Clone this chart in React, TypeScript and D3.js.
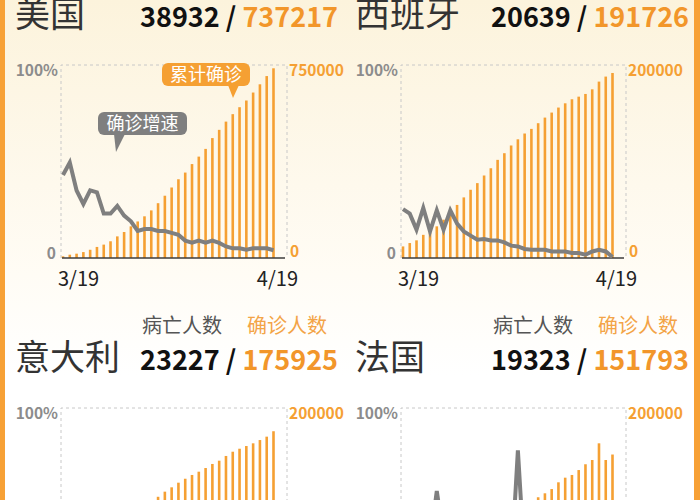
import React, {useEffect, useRef} from 'react';
import * as d3 from 'd3';

// x categories, 3/19 .. 4/19
const dates: string[] = [
  '3/19', '3/20', '3/21', '3/22', '3/23', '3/24', '3/25', '3/26', '3/27', '3/28', '3/29', '3/30', '3/31',
  '4/1', '4/2', '4/3', '4/4', '4/5', '4/6', '4/7', '4/8', '4/9', '4/10', '4/11', '4/12', '4/13', '4/14',
  '4/15', '4/16', '4/17', '4/18', '4/19'
];

const countries: string[] = ['美国', '西班牙', '意大利', '法国'];
const deaths: number[] = [38932, 20639, 23227, 19323];
const confirmedTotal: number[] = [737217, 191726, 175925, 151793];
const rightMax: number[] = [750000, 200000, 200000, 200000];
const leftTicks: string[] = ['0', '100%'];

// cumulative confirmed (bars)
const usConfirmed: number[] = [
  6500, 12900, 16800, 23000, 32000, 43000, 52000, 65000, 84000, 101000,
  123000, 142000, 162000, 185000, 213000, 242000, 274000, 306000, 332000, 365000,
  394000, 424000, 466000, 498000, 530000, 559000, 586000, 612000, 643000, 675000,
  707000, 737217
];
const spainConfirmed: number[] = [
  12000, 15500, 18300, 24000, 26500, 32800, 39700, 46600, 55000, 62800,
  70700, 77600, 85500, 93000, 101700, 108600, 116600, 123000, 129000, 133800,
  139700, 145500, 150700, 155900, 160300, 164500, 167200, 170000, 174800, 182800,
  188000, 191726
];
const italyConfirmed: number[] = [
  35700, 41000, 47000, 53600, 59100, 63900, 69200, 74400, 80600, 86500,
  92500, 97700, 101000, 104500, 108000, 113300, 117800, 122600, 126700, 130600,
  134000, 137800, 142000, 145400, 150300, 154700, 157800, 160600, 163400, 166800,
  170300, 175925
];
const franceConfirmed: number[] = [
  9100, 10900, 12600, 14300, 16000, 19800, 22300, 25200, 29200, 32900,
  37600, 40200, 44500, 52100, 56900, 59100, 64300, 89900, 92800, 98000,
  107500, 111600, 116000, 123000, 127800, 130600, 135700, 141700, 146100, 163400,
  146100, 151793
];

// growth rate of confirmed, % (line)
const usGrowth: number[] = [
  43, 49.5, 35, 28, 35, 34, 23, 23, 27, 22,
  19, 14, 15, 15, 14, 14, 13, 12, 9, 8,
  9, 8, 9, 7.8, 6, 5, 5, 4.3, 5, 5,
  5, 4
];
const spainGrowth: number[] = [
  25.3, 23, 14.7, 25.9, 13.8, 24.7, 14.7, 24.7, 17.8, 13.8,
  11.6, 9.5, 9.8, 9.1, 9.1, 8.1, 6.4, 6, 4.7, 4.3,
  4.3, 4.3, 3.4, 3.4, 3.4, 2.6, 2.6, 1.7, 3.4, 4.3,
  3.4, 0.5
];
const italyGrowth: number[] = [
  14, 14.6, 13.9, 10.3, 8.1, 8.2, 7.5, 8.3, 7.3, 6.9,
  5.6, 4.1, 4.0, 4.5, 4.2, 4.0, 4.0, 3.5, 2.7, 2.3,
  2.8, 3.0, 2.8, 3.2, 2.7, 2.0, 1.9, 1.6, 2.3, 2.1,
  2.0, 1.8
];
const franceGrowth: number[] = [
  19, 16, 14, 28, 30, 57, 33, 15, 13, 18,
  12, 9, 11, 13, 7, 5, 17, 78, 20, 8,
  10, 4, 6, 4, 3, 4, 3, 5, 4, 12,
  1, 2
];

const barSeries: number[][] = [usConfirmed, spainConfirmed, italyConfirmed, franceConfirmed];
const lineSeries: number[][] = [usGrowth, spainGrowth, italyGrowth, franceGrowth];

const ORANGE = '#f5a033';
const ORANGE_TEXT = '#f2962a';
const GRAY = '#7f7f7f';
const FONT = '"Noto Sans CJK SC", "Noto Sans", sans-serif';

const App = () => {
  const refObject: any = useRef();

  useEffect(() => {
    const currentObject: any = refObject.current;
    const width = 700;
    const height = 500;

    const svg: any = d3.select(currentObject)
      .call((g: any) => g.select('svg').remove())
      .append('svg')
      .attr('width', width)
      .attr('height', height)
      .attr('viewBox', `0,0,${width},${height}`)
      .style('font-family', FONT);

    const grad = svg.append('defs').append('linearGradient')
      .attr('id', 'bg').attr('x1', 0).attr('y1', 0).attr('x2', 0).attr('y2', 1);
    grad.append('stop').attr('offset', '0%').attr('stop-color', '#fcf3dc');
    grad.append('stop').attr('offset', '55%').attr('stop-color', '#fffcf5');
    grad.append('stop').attr('offset', '75%').attr('stop-color', '#ffffff');

    svg.append('rect').attr('width', width).attr('height', height).attr('fill', 'url(#bg)');
    svg.append('rect').attr('x', 0).attr('y', 0).attr('width', 5).attr('height', height).attr('fill', '#f7a136');
    svg.append('rect').attr('x', 694).attr('y', 0).attr('width', 6).attr('height', height).attr('fill', '#f7a136');

    countries.forEach((name, i) => {
      const col = i % 2;
      const row = Math.floor(i / 2);
      const ox = col * 340;
      const oy = row * 343;
      const left = ox + 61;
      const right = ox + 287 - col;
      const top = oy + 65;
      const bottom = oy + 258;
      const g = svg.append('g');

      const x = d3.scalePoint()
        .domain(dates)
        .range([left + 2, right - 13.5]);

      const yBar = d3.scaleLinear()
        .domain([0, rightMax[i]])
        .range([bottom, top]);

      const yLine = d3.scaleLinear()
        .domain([0, 100])
        .range([bottom, top]);

      // header (the legend words of the top row sit above the picture)
      const numX = col === 0 ? 140 : ox + 151;
      if (row > 0) {
        g.append('text')
          .attr('x', numX + 2).attr('y', oy - 10)
          .attr('font-size', 20).attr('fill', '#555')
          .text('病亡人数');
        g.append('text')
          .attr('x', numX + 107).attr('y', oy - 10)
          .attr('font-size', 20).attr('fill', '#f3a447')
          .text('确诊人数');
      }

      g.append('text')
        .attr('x', ox + 15).attr('y', oy + 27)
        .attr('font-size', 35).attr('fill', '#333')
        .text(name);

      const num = g.append('text')
        .attr('x', col === 0 ? 338 : ox + 349).attr('y', oy + 27)
        .attr('text-anchor', 'end')
        .attr('font-size', 27).attr('font-weight', 700);
      num.append('tspan').attr('fill', '#111').text(`${deaths[i]} / `);
      num.append('tspan').attr('fill', ORANGE_TEXT).text(`${confirmedTotal[i]}`);

      // frame
      g.append('path')
        .attr('d', `M${left},${bottom}V${top}H${right}V${bottom}`)
        .attr('fill', 'none')
        .attr('stroke', '#c8c8c8')
        .attr('stroke-width', 1)
        .attr('stroke-dasharray', '3,3');

      // axis labels
      g.append('text')
        .attr('x', left - 3).attr('y', yLine(100) + 11)
        .attr('text-anchor', 'end')
        .attr('font-size', 15.5).attr('font-weight', 700).attr('fill', '#8c8c8c')
        .text(leftTicks[1]);
      g.append('text')
        .attr('x', left - 5).attr('y', yLine(0) + 1)
        .attr('text-anchor', 'end')
        .attr('font-size', 15.5).attr('font-weight', 700).attr('fill', '#8c8c8c')
        .text(leftTicks[0]);
      g.append('text')
        .attr('x', right + 2).attr('y', yBar(rightMax[i]) + 11)
        .attr('font-size', 15.5).attr('font-weight', 700).attr('fill', ORANGE)
        .text(`${rightMax[i]}`);
      g.append('text')
        .attr('x', right + 3).attr('y', yBar(0) - 1)
        .attr('font-size', 15.5).attr('font-weight', 700).attr('fill', ORANGE)
        .text('0');

      // bars
      g.append('g')
        .selectAll('rect')
        .data(barSeries[i])
        .join('rect')
        .attr('x', (d: number, j: number) => (x(dates[j]) as number) - 1.3)
        .attr('y', (d: number) => yBar(d))
        .attr('width', 2.6)
        .attr('height', (d: number) => bottom - yBar(d))
        .attr('fill', ORANGE);

      g.append('line')
        .attr('x1', left + 1).attr('x2', right - 2)
        .attr('y1', bottom).attr('y2', bottom)
        .attr('stroke', '#3c3c3c')
        .attr('stroke-width', 1.5);

      const line = d3.line<number>()
        .x((d, j) => x(dates[j]) as number)
        .y(d => yLine(d));

      g.append('path')
        .datum(lineSeries[i])
        .attr('fill', 'none')
        .attr('stroke', GRAY)
        .attr('stroke-width', 4)
        .attr('d', line);

      // date labels
      g.append('text')
        .attr('x', left - 3).attr('y', oy + 286)
        .attr('font-size', 20).attr('fill', '#222')
        .text(dates[0]);
      g.append('text')
        .attr('x', right + 11).attr('y', oy + 286)
        .attr('text-anchor', 'end')
        .attr('font-size', 20).attr('fill', '#222')
        .text(dates[dates.length - 1]);

      if (i === 0) {
        // callouts
        g.append('rect')
          .attr('x', 162).attr('y', 63).attr('width', 88).attr('height', 23).attr('rx', 6)
          .attr('fill', ORANGE);
        g.append('path')
          .attr('d', 'M228,85L239,85L233,98Z')
          .attr('fill', ORANGE);
        g.append('text')
          .attr('x', 206).attr('y', 81)
          .attr('text-anchor', 'middle')
          .attr('font-size', 18).attr('fill', '#fff')
          .text('累计确诊');

        g.append('rect')
          .attr('x', 98).attr('y', 112).attr('width', 89).attr('height', 23).attr('rx', 6)
          .attr('fill', GRAY);
        g.append('path')
          .attr('d', 'M114,134L125,134L116,152Z')
          .attr('fill', GRAY);
        g.append('text')
          .attr('x', 142.5).attr('y', 130)
          .attr('text-anchor', 'middle')
          .attr('font-size', 18).attr('fill', '#fff')
          .text('确诊增速');
      }
    });
  }, []);

  return (
    <div ref={refObject} style={{position: 'absolute', left: 0, top: 0, width: 700, height: 500}}/>
  );
}

export default App;
